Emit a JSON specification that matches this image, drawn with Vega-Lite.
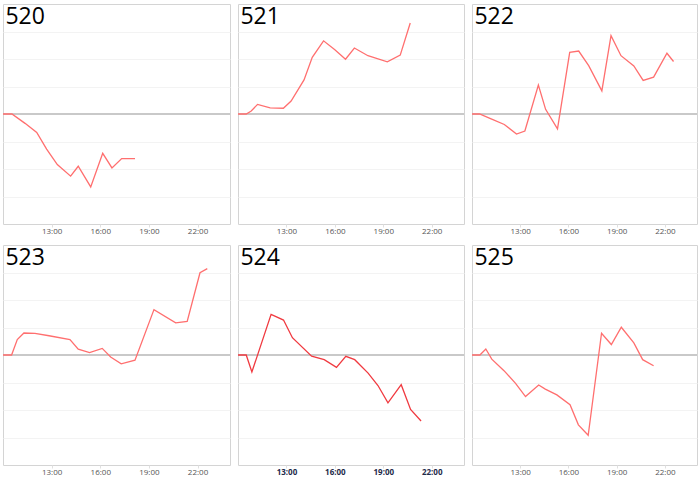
{
  "$schema": "https://vega.github.io/schema/vega-lite/v6.json",
  "padding": {"left": -1, "top": 3, "right": 2, "bottom": 3},
  "background": "white",
  "config": {
    "view": {"stroke": "#d4d4d4", "strokeWidth": 1},
    "font": "Open Sans",
    "axisX": {"title": null, "labelFontSize": 8, "labelColor": "#555", "labelFont": "Open Sans", "tickColor": "#e0e0e0", "tickSize": 3, "domain": false, "grid": false, "labelPadding": 0},
    "axisY": {"title": null, "labels": false, "ticks": false, "domain": false, "grid": true, "gridColor": "#f3f3f3", "gridWidth": 1, "minExtent": 0, "maxExtent": 0, "labelPadding": 0},
    "line": {"strokeWidth": 1.3, "color": "#ff6f6f"},
    "rule": {"color": "#c8c8c8", "strokeWidth": 1.5},
    "title": {"anchor": "start", "fontSize": 23, "fontWeight": "normal", "font": "Open Sans", "color": "black", "offset": -25, "baseline": "alphabetic", "dx": 5}
  },
  "data": {
    "values": [
      {"id": 520, "t": 10.0, "v": 0}, {"id": 520, "t": 10.55, "v": 0}, {"id": 520, "t": 11.36, "v": -0.34}, {"id": 520, "t": 12.08, "v": -0.67}, {"id": 520, "t": 12.69, "v": -1.28}, {"id": 520, "t": 13.35, "v": -1.84}, {"id": 520, "t": 14.17, "v": -2.26}, {"id": 520, "t": 14.64, "v": -1.9}, {"id": 520, "t": 15.41, "v": -2.65}, {"id": 520, "t": 16.15, "v": -1.43}, {"id": 520, "t": 16.72, "v": -1.96}, {"id": 520, "t": 17.32, "v": -1.62}, {"id": 520, "t": 18.14, "v": -1.62},
      {"id": 521, "t": 10.0, "v": 0}, {"id": 521, "t": 10.51, "v": 0}, {"id": 521, "t": 10.82, "v": 0.11}, {"id": 521, "t": 11.21, "v": 0.35}, {"id": 521, "t": 11.99, "v": 0.22}, {"id": 521, "t": 12.81, "v": 0.21}, {"id": 521, "t": 13.29, "v": 0.47}, {"id": 521, "t": 14.09, "v": 1.24}, {"id": 521, "t": 14.6, "v": 2.06}, {"id": 521, "t": 15.3, "v": 2.66}, {"id": 521, "t": 16.0, "v": 2.34}, {"id": 521, "t": 16.66, "v": 1.99}, {"id": 521, "t": 17.21, "v": 2.4}, {"id": 521, "t": 18.05, "v": 2.12}, {"id": 521, "t": 19.25, "v": 1.9}, {"id": 521, "t": 20.05, "v": 2.14}, {"id": 521, "t": 20.67, "v": 3.31},
      {"id": 522, "t": 10.0, "v": 0}, {"id": 522, "t": 10.47, "v": 0}, {"id": 522, "t": 11.19, "v": -0.18}, {"id": 522, "t": 12.01, "v": -0.38}, {"id": 522, "t": 12.77, "v": -0.73}, {"id": 522, "t": 13.29, "v": -0.62}, {"id": 522, "t": 14.13, "v": 1.05}, {"id": 522, "t": 14.58, "v": 0.17}, {"id": 522, "t": 15.32, "v": -0.54}, {"id": 522, "t": 16.08, "v": 2.24}, {"id": 522, "t": 16.64, "v": 2.29}, {"id": 522, "t": 17.26, "v": 1.76}, {"id": 522, "t": 18.08, "v": 0.84}, {"id": 522, "t": 18.65, "v": 2.85}, {"id": 522, "t": 19.27, "v": 2.12}, {"id": 522, "t": 20.07, "v": 1.75}, {"id": 522, "t": 20.65, "v": 1.22}, {"id": 522, "t": 21.3, "v": 1.34}, {"id": 522, "t": 22.13, "v": 2.21}, {"id": 522, "t": 22.54, "v": 1.91},
      {"id": 523, "t": 10.0, "v": 0}, {"id": 523, "t": 10.53, "v": 0}, {"id": 523, "t": 10.88, "v": 0.56}, {"id": 523, "t": 11.29, "v": 0.8}, {"id": 523, "t": 11.97, "v": 0.79}, {"id": 523, "t": 12.84, "v": 0.7}, {"id": 523, "t": 14.13, "v": 0.56}, {"id": 523, "t": 14.64, "v": 0.21}, {"id": 523, "t": 15.34, "v": 0.09}, {"id": 523, "t": 16.12, "v": 0.24}, {"id": 523, "t": 16.64, "v": -0.07}, {"id": 523, "t": 17.29, "v": -0.32}, {"id": 523, "t": 18.14, "v": -0.19}, {"id": 523, "t": 19.31, "v": 1.65}, {"id": 523, "t": 20.65, "v": 1.17}, {"id": 523, "t": 21.36, "v": 1.22}, {"id": 523, "t": 22.15, "v": 2.99}, {"id": 523, "t": 22.6, "v": 3.14},
      {"id": 524, "t": 10.0, "v": 0}, {"id": 524, "t": 10.51, "v": 0}, {"id": 524, "t": 10.86, "v": -0.62}, {"id": 524, "t": 12.05, "v": 1.48}, {"id": 524, "t": 12.82, "v": 1.27}, {"id": 524, "t": 13.37, "v": 0.63}, {"id": 524, "t": 14.56, "v": -0.04}, {"id": 524, "t": 15.34, "v": -0.17}, {"id": 524, "t": 16.1, "v": -0.45}, {"id": 524, "t": 16.68, "v": -0.05}, {"id": 524, "t": 17.23, "v": -0.17}, {"id": 524, "t": 18.06, "v": -0.66}, {"id": 524, "t": 18.67, "v": -1.11}, {"id": 524, "t": 19.29, "v": -1.74}, {"id": 524, "t": 20.11, "v": -1.08}, {"id": 524, "t": 20.69, "v": -1.98}, {"id": 524, "t": 21.34, "v": -2.4},
      {"id": 525, "t": 10.0, "v": 0}, {"id": 525, "t": 10.49, "v": 0}, {"id": 525, "t": 10.86, "v": 0.22}, {"id": 525, "t": 11.23, "v": -0.15}, {"id": 525, "t": 11.99, "v": -0.57}, {"id": 525, "t": 12.71, "v": -1.03}, {"id": 525, "t": 13.33, "v": -1.51}, {"id": 525, "t": 14.15, "v": -1.09}, {"id": 525, "t": 14.56, "v": -1.24}, {"id": 525, "t": 15.28, "v": -1.45}, {"id": 525, "t": 16.1, "v": -1.81}, {"id": 525, "t": 16.62, "v": -2.54}, {"id": 525, "t": 17.23, "v": -2.92}, {"id": 525, "t": 18.06, "v": 0.79}, {"id": 525, "t": 18.67, "v": 0.38}, {"id": 525, "t": 19.29, "v": 1.01}, {"id": 525, "t": 20.07, "v": 0.44}, {"id": 525, "t": 20.62, "v": -0.17}, {"id": 525, "t": 21.3, "v": -0.39}
    ]
  },
  "spacing": 8,
  "vconcat": [
    {"spacing": 8, "bounds": "flush", "hconcat": [
      {"width": 227, "height": 220, "title": "520", "transform": [{"filter": "datum.id == 520"}],
        "encoding": {"x": {"field": "t", "type": "quantitative", "scale": {"domain": [10, 24], "nice": false, "zero": false}, "axis": {"values": [13, 16, 19, 22], "labelExpr": "datum.value + ':00'"}}, "y": {"field": "v", "type": "quantitative", "scale": {"domain": [-4, 4], "nice": false}, "axis": {"values": [-3, -2, -1, 1, 2, 3]}}},
        "layer": [
          {"mark": "rule", "encoding": {"y": {"datum": 0}, "x": {"datum": 10}, "x2": {"datum": 24}}},
          {"mark": "line"}
        ]},
      {"width": 226, "height": 220, "title": "521", "transform": [{"filter": "datum.id == 521"}],
        "encoding": {"x": {"field": "t", "type": "quantitative", "scale": {"domain": [10, 24], "nice": false, "zero": false}, "axis": {"values": [13, 16, 19, 22], "labelExpr": "datum.value + ':00'"}}, "y": {"field": "v", "type": "quantitative", "scale": {"domain": [-4, 4], "nice": false}, "axis": {"values": [-3, -2, -1, 1, 2, 3]}}},
        "layer": [
          {"mark": "rule", "encoding": {"y": {"datum": 0}, "x": {"datum": 10}, "x2": {"datum": 24}}},
          {"mark": "line"}
        ]},
      {"width": 225, "height": 220, "title": "522", "transform": [{"filter": "datum.id == 522"}],
        "encoding": {"x": {"field": "t", "type": "quantitative", "scale": {"domain": [10, 24], "nice": false, "zero": false}, "axis": {"values": [13, 16, 19, 22], "labelExpr": "datum.value + ':00'"}}, "y": {"field": "v", "type": "quantitative", "scale": {"domain": [-4, 4], "nice": false}, "axis": {"values": [-3, -2, -1, 1, 2, 3]}}},
        "layer": [
          {"mark": "rule", "encoding": {"y": {"datum": 0}, "x": {"datum": 10}, "x2": {"datum": 24}}},
          {"mark": "line"}
        ]}
    ]},
    {"spacing": 8, "bounds": "flush", "hconcat": [
      {"width": 227, "height": 220, "title": "523", "transform": [{"filter": "datum.id == 523"}],
        "encoding": {"x": {"field": "t", "type": "quantitative", "scale": {"domain": [10, 24], "nice": false, "zero": false}, "axis": {"values": [13, 16, 19, 22], "labelExpr": "datum.value + ':00'"}}, "y": {"field": "v", "type": "quantitative", "scale": {"domain": [-4, 4], "nice": false}, "axis": {"values": [-3, -2, -1, 1, 2, 3]}}},
        "layer": [
          {"mark": "rule", "encoding": {"y": {"datum": 0}, "x": {"datum": 10}, "x2": {"datum": 24}}},
          {"mark": "line"}
        ]},
      {"width": 226, "height": 220, "title": "524", "transform": [{"filter": "datum.id == 524"}],
        "encoding": {"x": {"field": "t", "type": "quantitative", "scale": {"domain": [10, 24], "nice": false, "zero": false}, "axis": {"values": [13, 16, 19, 22], "labelExpr": "datum.value + ':00'", "labelColor": "#1e2a4a", "labelFontWeight": "bold"}}, "y": {"field": "v", "type": "quantitative", "scale": {"domain": [-4, 4], "nice": false}, "axis": {"values": [-3, -2, -1, 1, 2, 3]}}},
        "layer": [
          {"mark": "rule", "encoding": {"y": {"datum": 0}, "x": {"datum": 10}, "x2": {"datum": 24}}},
          {"mark": {"type": "line", "color": "#f03a40"}}
        ]},
      {"width": 225, "height": 220, "title": "525", "transform": [{"filter": "datum.id == 525"}],
        "encoding": {"x": {"field": "t", "type": "quantitative", "scale": {"domain": [10, 24], "nice": false, "zero": false}, "axis": {"values": [13, 16, 19, 22], "labelExpr": "datum.value + ':00'"}}, "y": {"field": "v", "type": "quantitative", "scale": {"domain": [-4, 4], "nice": false}, "axis": {"values": [-3, -2, -1, 1, 2, 3]}}},
        "layer": [
          {"mark": "rule", "encoding": {"y": {"datum": 0}, "x": {"datum": 10}, "x2": {"datum": 24}}},
          {"mark": "line"}
        ]}
    ]}
  ]
}
